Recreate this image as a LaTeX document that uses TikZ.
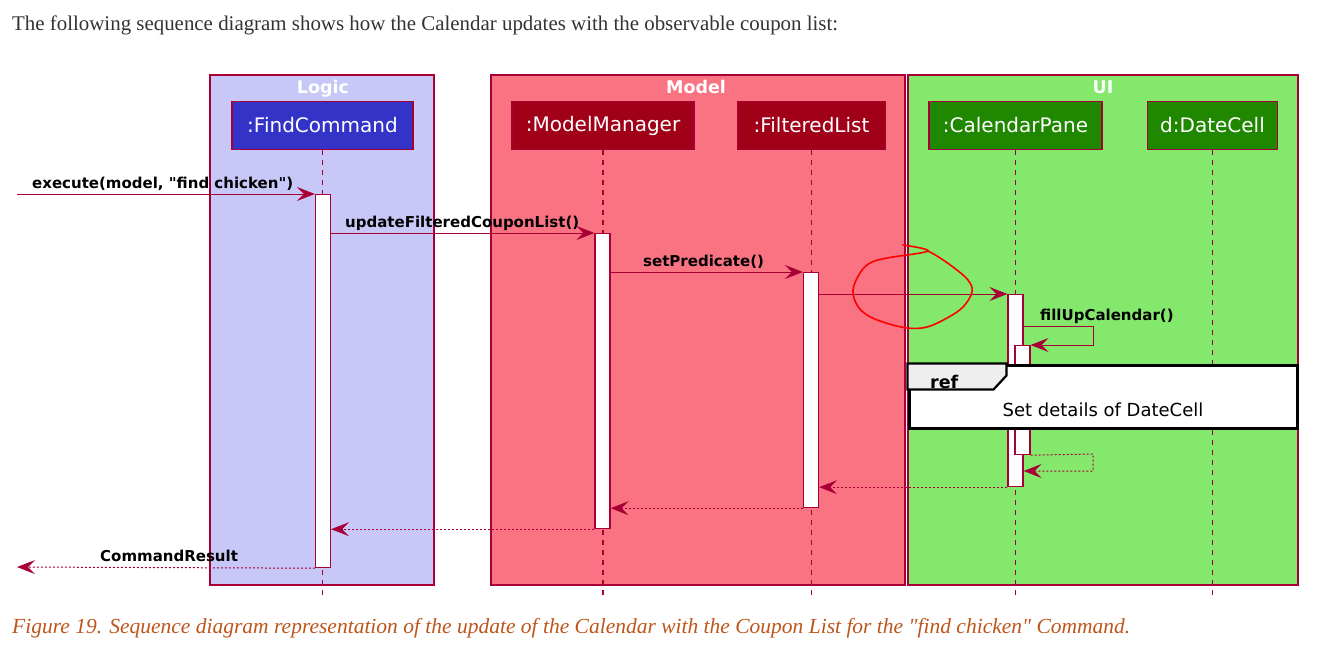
\documentclass[tikz,border=0pt]{standalone}
\usepackage{fontspec}
\setmainfont{Liberation Serif}[Ligatures=TeXOff]
\newfontfamily\umlfont{DejaVu Sans}
\usetikzlibrary{arrows.meta}

\definecolor{seqBorder}{RGB}{168,0,54}
\definecolor{seqLogicBg}{RGB}{200,200,248}
\definecolor{seqModelBg}{RGB}{250,115,131}
\definecolor{seqUiBg}{RGB}{132,232,108}
\definecolor{seqLogicHead}{RGB}{51,51,200}
\definecolor{seqModelHead}{RGB}{160,0,24}
\definecolor{seqUiHead}{RGB}{32,136,0}
\definecolor{seqRefTab}{RGB}{238,238,238}
\definecolor{seqText}{RGB}{51,51,51}
\definecolor{seqCaption}{RGB}{190,86,28}
\definecolor{seqNote}{RGB}{255,0,0}

\begin{document}
\begin{tikzpicture}[x=1pt,y=-1pt,
      group/.style={draw=seqBorder, line width=1.2pt},
      grouptitle/.style={font=\fontsize{17.5}{19}\selectfont\umlfont\bfseries,
        text=white, anchor=base, inner sep=0pt},
      participant/.style={draw=seqBorder, line width=1.5pt, text=white,
        inner sep=0pt, font=\fontsize{20}{22}\selectfont\umlfont},
      lifeline/.style={draw=seqBorder, line width=1.3pt,
        dash pattern=on 5pt off 5pt},
      activation/.style={draw=seqBorder, fill=white, line width=1.2pt,
        minimum width=15pt, inner sep=0pt, anchor=north},
      msg/.style={draw=seqBorder, line width=1pt,
        -{Stealth[length=18pt,width=14pt,inset=7pt]}},
      reply/.style={msg, dash pattern=on 2pt off 2pt},
      msglabel/.style={font=\fontsize{15}{17}\selectfont\umlfont\bfseries,
        anchor=base west, inner sep=0pt},
      refbox/.style={draw=black, fill=white, line width=3pt,
        minimum width=388pt, minimum height=63pt, inner sep=0pt},
      reftab/.style={draw=black, fill=seqRefTab, line width=2.2pt,
        line join=miter},
      note/.style={draw=seqNote, line width=1.6pt}]
      \useasboundingbox (0,0) rectangle (1323,665);
      \fill[white] (0,0) rectangle (1323,665);

      \node[anchor=base west, inner sep=0pt, text=seqText,
        font=\fontsize{20.9}{24}\selectfont] (intro) at (12,30)
        {The following sequence diagram shows how the Calendar updates with the observable coupon list:};

      \path[group, fill=seqLogicBg] (210,75) rectangle (434,585);
      \path[group, fill=seqModelBg] (491,75) rectangle (905,585);
      \path[group, fill=seqUiBg] (908,75) rectangle (1298,585);
      \node[grouptitle] (tLogic) at (323,93) {Logic};
      \node[grouptitle] (tModel) at (696,93) {Model};
      \node[grouptitle] (tUi) at (1103,93) {UI};

      \node[participant, fill=seqLogicHead, minimum width=181pt,
        minimum height=48pt] (pFind) at (322.5,125.5) {:FindCommand};
      \node[participant, fill=seqModelHead, minimum width=182pt,
        minimum height=48pt] (pModel) at (603,125.5) {:ModelManager};
      \node[participant, fill=seqModelHead, minimum width=148pt,
        minimum height=48pt] (pList) at (811.5,125.5) {:FilteredList};
      \node[participant, fill=seqUiHead, minimum width=173pt,
        minimum height=48pt] (pCal) at (1015.5,125.5) {:CalendarPane};
      \node[participant, fill=seqUiHead, minimum width=130pt,
        minimum height=48pt] (pCell) at (1212.5,125.5) {d:DateCell};

      \coordinate (bottom) at (0,596);
      \foreach \p in {pFind,pModel,pList,pCal,pCell}{
        \draw[lifeline] (\p.south) -- (\p.south |- bottom);}

      \node[activation, minimum height=373pt] (actFind) at (323,194) {};
      \node[activation, minimum height=295pt] (actModel) at (602.5,233) {};
      \node[activation, minimum height=235pt] (actList) at (811,272) {};
      \node[activation, minimum height=192pt] (actCal) at (1015.5,294) {};
      \node[activation, minimum height=109pt] (actCalIn) at (1022.5,345) {};

      \coordinate (callerIn) at (17,194);
      \coordinate (callerOut) at (17,567);
      \coordinate (loopTop) at (1093,326);
      \coordinate (loopBack) at (1093,454);
      \coordinate (loopEnd) at (1093,471);

      \draw[msg] (callerIn) -- (actFind.north west);
      \node[msglabel] (lExecute) at (32,188) {execute(model, "find chicken")};
      \draw[msg] (actFind.east |- actModel.north) -- (actModel.north west);
      \node[msglabel] (lUpdate) at (345,227) {updateFilteredCouponList()};
      \draw[msg] (actModel.east |- actList.north) -- (actList.north west);
      \node[msglabel] (lPredicate) at (643,266) {setPredicate()};
      \draw[msg] (actList.east |- actCal.north) -- (actCal.north west);
      \draw[msg] (actCal.east |- loopTop) -- (loopTop)
        -- (loopTop |- actCalIn.north) -- (actCalIn.north east);
      \node[msglabel] (lFill) at (1040,320) {fillUpCalendar()};

      \draw[reply] (actCalIn.south east) -- (loopBack) -- (loopEnd)
        -- (actCal.east |- loopEnd);
      \draw[reply] (actCal.south west) -- (actList.east |- actCal.south);
      \draw[reply] (actList.south west) -- (actModel.east |- actList.south);
      \draw[reply] (actModel.south west) -- (actFind.east |- actModel.south);
      \draw[reply] (actFind.south west) -- (callerOut);
      \node[msglabel] (lResult) at (100,561) {CommandResult};

      \node[refbox] (refSet) at (1103,396.5) {};
      \path[reftab] (refSet.north west) -- ++(99,0) -- ++(0,12) -- ++(-13,14)
        -- ++(-86,0) -- cycle;
      \node[font=\fontsize{17.5}{19}\selectfont\umlfont\bfseries,
        anchor=base west, inner sep=0pt] (refLabel) at (930,388) {ref};
      \node[font=\fontsize{18}{20}\selectfont\umlfont, anchor=base,
        inner sep=0pt] (refText) at (1103,416) {Set details of DateCell};

      \draw[note, line cap=round, line join=round] plot[smooth, tension=.6]
        coordinates {(903,245) (928,251) (887,258) (870,263) (860,273)
        (853,290) (857,305) (867,315) (883,322) (907,328) (927,327)
        (947,318) (963,307) (972,292) (968,280) (953,267) (937,256)
        (928,251)};

      \node[anchor=base west, inner sep=0pt, text=seqCaption,
        font=\fontsize{21.5}{24}\selectfont\itshape] (caption) at (12,633)
        {Figure 19. Sequence diagram representation of the update of the Calendar with the Coupon List for the "find chicken" Command.};
    \end{tikzpicture}
\end{document}
